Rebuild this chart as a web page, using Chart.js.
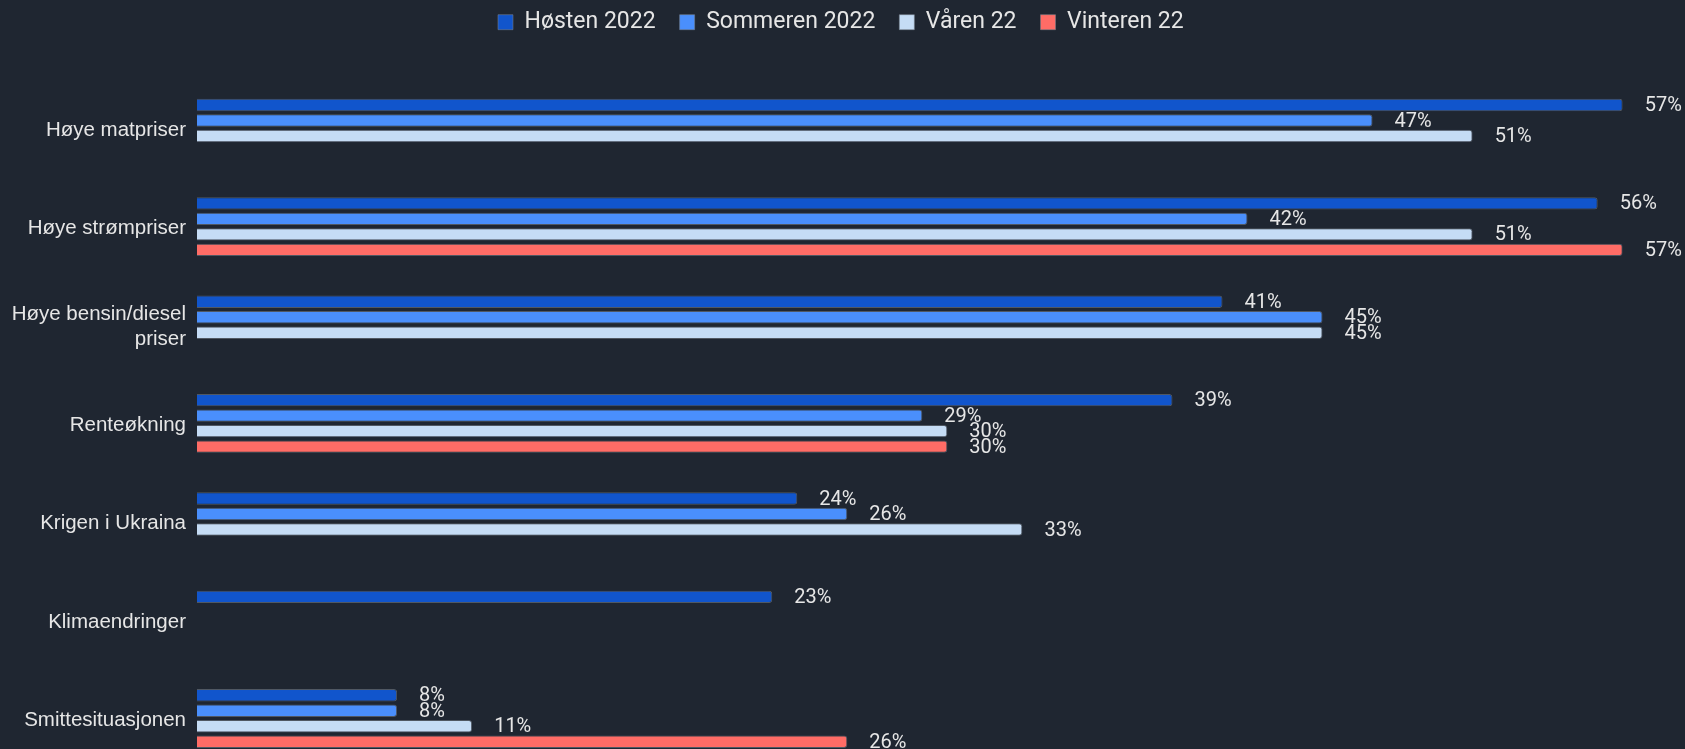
<!DOCTYPE html>
<html>
<head>
<meta charset="utf-8">
<script src="https://cdn.jsdelivr.net/npm/chart.js@4.4.1/dist/chart.umd.min.js"></script>
<style>
  html, body { margin: 0; padding: 0; background: #1f2631; overflow: hidden; }
  #wrap { width: 1685px; height: 783px; }
</style>
</head>
<body>
<div id="wrap"><canvas id="c" width="1685" height="783"></canvas></div>
<script>
const categories = [
  'Høye matpriser',
  'Høye strømpriser',
  ['Høye bensin/diesel', 'priser'],
  'Renteøkning',
  'Krigen i Ukraina',
  'Klimaendringer',
  'Smittesituasjonen'
];
const seriesNames = ['Høsten 2022', 'Sommeren 2022', 'Våren 22', 'Vinteren 22'];
const hosten2022 = [57, 56, 41, 39, 24, 23, 8];
const sommeren2022 = [47, 42, 45, 29, 26, null, 8];
const varen22 = [51, 51, 45, 30, 33, null, 11];
const vinteren22 = [null, 57, null, 30, null, null, 26];
const seriesColors = ['#1155cc', '#4a8ffc', '#c5dcf5', '#ff6c66'];

const LEGEND_PAD = 24;

const valueLabels = {
  id: 'valueLabels',
  afterDatasetsDraw(chart) {
    const ctx = chart.ctx;
    ctx.save();
    ctx.font = '20px Roboto';
    ctx.fillStyle = '#e6e6e6';
    ctx.textAlign = 'left';
    ctx.textBaseline = 'middle';
    chart.data.datasets.forEach((ds, i) => {
      const meta = chart.getDatasetMeta(i);
      meta.data.forEach((el, j) => {
        const v = ds.data[j];
        if (v === null || v === undefined) return;
        ctx.fillText(v + '%', el.x + 22, el.y + 1);
      });
    });
    ctx.restore();
  }
};

const legendGap = {
  id: 'legendGap',
  beforeInit(chart) {
    if (!chart.legend) return;
    const orig = chart.legend.fit;
    chart.legend.fit = function () {
      orig.call(this);
      this.height += 35.4;
      if (this.lineWidths && this.lineWidths.length) {
        const n = this.legendItems ? this.legendItems.length : 4;
        this.lineWidths[0] -= (n - 1) * LEGEND_PAD - 13;
      }
    };
  }
};

const allSeries = [hosten2022, sommeren2022, varen22, vinteren22];

new Chart(document.getElementById('c'), {
  type: 'bar',
  data: {
    labels: categories,
    datasets: allSeries.map((d, i) => ({
      label: seriesNames[i],
      data: d,
      backgroundColor: seriesColors[i],
      borderColor: 'rgba(120,130,140,0.55)',
      borderWidth: 1,
      borderRadius: 3,
      categoryPercentage: 0.63,
      barPercentage: 0.8
    }))
  },
  options: {
    indexAxis: 'y',
    responsive: false,
    devicePixelRatio: 1,
    animation: false,
    layout: { padding: { top: -13.3, right: 62.3, bottom: 0, left: 0 } },
    plugins: {
      legend: {
        position: 'top',
        labels: {
          color: '#e6e6e6',
          font: { family: 'Roboto', size: 23 },
          boxWidth: 15,
          boxHeight: 15,
          padding: LEGEND_PAD
        }
      },
      tooltip: { enabled: false }
    },
    scales: {
      x: { display: false, min: 0, max: 57 },
      y: {
        grid: { display: false },
        border: { display: false },
        ticks: {
          color: '#e6e6e6',
          font: { family: 'Liberation Sans', size: 20.5 },
          autoSkip: false,
          labelOffset: 2
        },
        afterFit(scale) { scale.width = 197; }
      }
    }
  },
  plugins: [valueLabels, legendGap]
});
</script>
</body>
</html>
